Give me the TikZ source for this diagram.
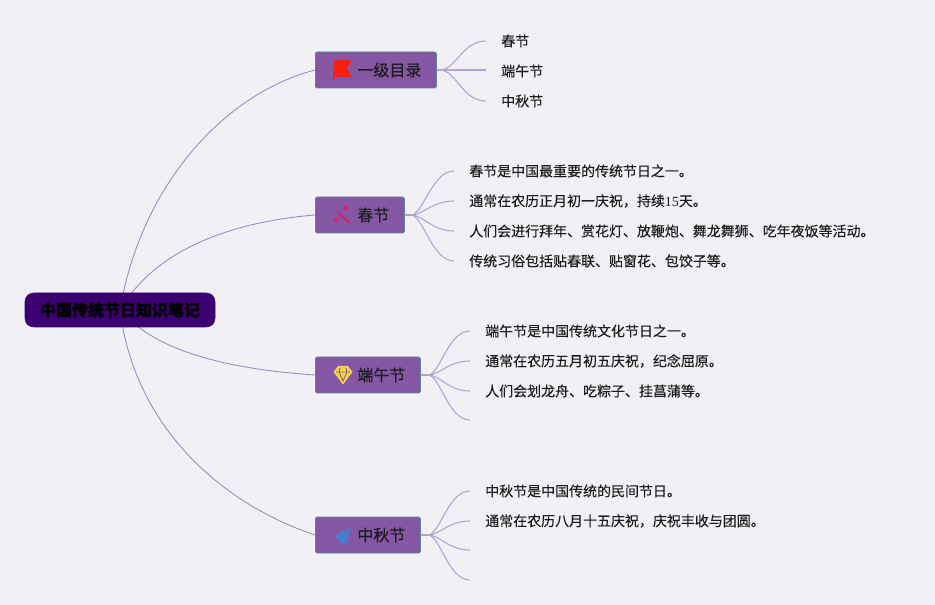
\documentclass[tikz,border=0pt]{standalone}
\usepackage{fontspec}
\setmainfont[FakeBold=0.15]{Noto Sans CJK SC}
\newfontfamily\digitfont{Liberation Serif}
\usetikzlibrary{backgrounds,calc}
\definecolor{pagebg}{HTML}{F1F0F5}
\definecolor{boxfill}{HTML}{8556A3}
\definecolor{rootfill}{HTML}{3D0070}
\definecolor{boxedge}{HTML}{5F8396}
\definecolor{mainline}{HTML}{A08ABC}
\definecolor{subline}{HTML}{B3A2D2}
\definecolor{inktext}{HTML}{1C1C1C}
\definecolor{flagred}{HTML}{F5200F}
\definecolor{wandpink}{HTML}{E01E5F}
\definecolor{gemyellow}{HTML}{F0D640}
\definecolor{planeblue}{HTML}{3F82D2}
\tikzset{
  rootbox/.style={draw=rootfill,fill=rootfill,rounded corners=6.5pt,minimum width=142.5pt,minimum height=25.5pt,inner sep=0pt,text=black,font=\fontsize{12}{14}\selectfont\bfseries},
  topicbox/.style={draw=boxedge,fill=boxfill,line width=0.6pt,rounded corners=1.5pt,minimum height=27pt,inner xsep=11.25pt,inner ysep=0pt,anchor=west,text=inktext,font=\fontsize{12}{14}\selectfont},
  leaftext/.style={anchor=west,inner xsep=11.25pt,inner ysep=0pt,text=inktext,font=\fontsize{10.48}{12}\selectfont},
  rootlink/.style={draw=mainline,line width=0.65pt},
  sublink/.style={draw=subline,line width=0.8pt},
  stem/.style={draw=subline,line width=1.5pt},
}
\newcommand{\topiclabel}[1]{\hspace*{20.25pt}\raisebox{-0.6pt}{#1}}
\begin{document}
\begin{tikzpicture}[x=0.75pt,y=-0.75pt]
\useasboundingbox (0,0) rectangle (935,605);
% nodes
\node[rootbox] (root) at (120,310) {中国传统节日知识笔记};
\node[topicbox] (t1) at (315,70) {\topiclabel{一级目录}};
\node[topicbox] (t2) at (315,215) {\topiclabel{春节}};
\node[topicbox] (t3) at (315,375) {\topiclabel{端午节}};
\node[topicbox] (t4) at (315,535) {\topiclabel{中秋节}};
\coordinate (h1) at (440,70);
\coordinate (h2) at (411,215);
\coordinate (h3) at (428,375);
\coordinate (h4) at (428,535);
\node[leaftext] (a1) at (486,41) {春节};
\node[leaftext] (a2) at (486,71) {端午节};
\node[leaftext] (a3) at (486,101) {中秋节};
\node[leaftext] (b1) at (454,171) {春节是中国最重要的传统节日之一。};
\node[leaftext] (b2) at (454,201) {通常在农历正月初一庆祝，持续{\digitfont 15}天。};
\node[leaftext] (b3) at (454,231) {人们会进行拜年、赏花灯、放鞭炮、舞龙舞狮、吃年夜饭等活动。};
\node[leaftext] (b4) at (454,261) {传统习俗包括贴春联、贴窗花、包饺子等。};
\node[leaftext] (c1) at (470,331) {端午节是中国传统文化节日之一。};
\node[leaftext] (c2) at (470,361) {通常在农历五月初五庆祝，纪念屈原。};
\node[leaftext] (c3) at (470,391) {人们会划龙舟、吃粽子、挂菖蒲等。};
\coordinate (c4) at (470,420);
\node[leaftext] (d1) at (470,491) {中秋节是中国传统的民间节日。};
\node[leaftext] (d2) at (470,521) {通常在农历八月十五庆祝，庆祝丰收与团圆。};
\coordinate (d3) at (470,550);
\coordinate (d4) at (470,580);
% connectors behind the nodes
\begin{pgfonlayer}{background}
\fill[pagebg] (0,0) rectangle (935,605);
\draw[rootlink] (root.center) .. controls (140,190) and (220,95) .. (t1.west);
\draw[rootlink] (root.center) .. controls (155,250) and (230,222) .. (t2.west);
\draw[rootlink] (root.center) .. controls (150,345) and (210,368) .. (t3.west);
\draw[rootlink] (root.center) .. controls (135,430) and (225,505) .. (t4.west);
\draw[stem] (t1.east) -- (h1);
\draw[stem] (t2.east) -- (h2);
\draw[stem] (t3.east) -- (h3);
\draw[stem] (t4.east) -- (h4);
\foreach \n in {a1,a3} {\draw[sublink] (h1) .. controls ($(h1)+(16,0)$) and ($(\n.west)+(-24,0)$) .. (\n.west);}
\draw[stem,line width=1pt] (h1) -- (a2.west|-h1);
\foreach \n in {b1,b2,b3,b4} {\draw[sublink] (h2) .. controls ($(h2)+(12,0)$) and ($(\n.west)+(-22,0)$) .. (\n.west);}
\foreach \n in {c1,c2,c3,c4} {\draw[sublink] (h3) .. controls ($(h3)+(12,0)$) and ($(\n.west)+(-22,0)$) .. (\n);}
\foreach \n in {d1,d2,d3,d4} {\draw[sublink] (h4) .. controls ($(h4)+(12,0)$) and ($(\n.west)+(-22,0)$) .. (\n);}
\end{pgfonlayer}
% icons
\fill[flagred] (334,60) -- (352,60) -- (347,68.5) -- (352,77) -- (335,77) -- (334.5,80) -- (333,80) -- cycle;
\draw[line width=1.5pt,draw=wandpink] (338,213) -- (350,223);
\fill[wandpink] (346,204.5) -- (347,207) -- (349.5,208) -- (347,209) -- (346,211.5) -- (345,209) -- (342.5,208) -- (345,207) -- cycle;
\fill[wandpink] (336,216.5) -- (337,219) -- (339.5,220) -- (337,221) -- (336,223.5) -- (335,221) -- (332.5,220) -- (335,219) -- cycle;
\fill[gemyellow] (338,366) -- (348,366) -- (352.5,372) -- (343,384.5) -- (333.5,372) -- cycle;
\draw[boxfill,line width=0.6pt] (336,372) -- (350,372) (339,372) -- (343,381) -- (347,372) (340,368) -- (339,372) (346,368) -- (347,372);
\fill[planeblue] (351,527.5) -- (334,536) -- (340,539.5) -- (341,544.5) -- (344,542) -- (346,545) -- cycle;
\draw[boxfill!50!planeblue,line width=0.6pt] (349,529.5) -- (340,539.5);
\end{tikzpicture}
\end{document}
